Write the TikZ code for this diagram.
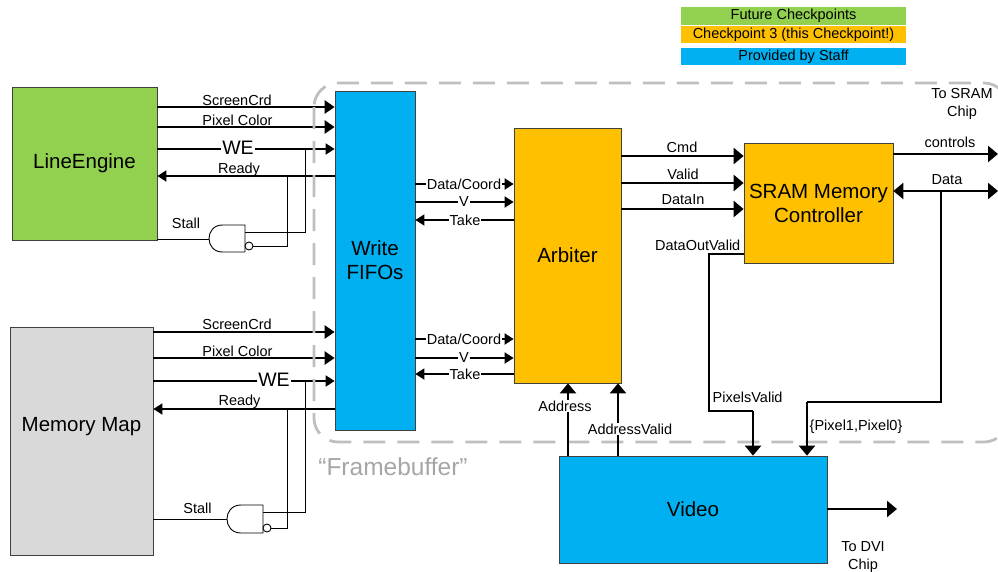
\documentclass[tikz,border=0pt]{standalone}
\usepackage{fontspec}
\setmainfont{Liberation Sans}
\usetikzlibrary{arrows.meta}
\definecolor{cgreen}{HTML}{92D050}
\definecolor{corange}{HTML}{FFC000}
\definecolor{cblue}{HTML}{00B0F0}
\definecolor{cgray}{HTML}{D9D9D9}
\definecolor{cdash}{HTML}{BFBFBF}
\definecolor{cframe}{HTML}{A6A6A6}
\begin{document}
\begin{tikzpicture}[x=1pt,y=-1pt,
  blk/.style={draw=black!75, line width=0.75pt, inner sep=0pt, align=center, font=\fontsize{20.5}{24}\selectfont},
  bigtxt/.style={inner sep=0pt, align=center, font=\fontsize{20.5}{24}\selectfont},
  legend/.style={inner sep=0pt, minimum width=225, minimum height=17.5, font=\fontsize{14.5}{16}\selectfont},
  lbl/.style={inner sep=0.5pt, font=\fontsize{14.5}{17}\selectfont},
  onl/.style={lbl, fill=white, inner sep=1pt},
  bus/.style={line width=2.6pt, -{Triangle[length=10pt,width=13pt]}},
  sig/.style={line width=1.8pt, -{Triangle[length=9pt,width=11pt]}},
  sigback/.style={line width=1.8pt, {Triangle[length=9pt,width=11pt]}-},
  fat/.style={line width=2.4pt, -{Triangle[length=10pt,width=16pt]}},
  fatboth/.style={line width=2.4pt, {Triangle[length=10pt,width=16pt]}-{Triangle[length=10pt,width=16pt]}},
  fatline/.style={line width=2.4pt},
  wire/.style={line width=0.9pt},
  gate/.style={draw=black, line width=0.9pt, fill=white},
]
\useasboundingbox (0,0) rectangle (998,571);

% legend
\node[legend, fill=cgreen] (lg1) at (793.5,16) {Future Checkpoints};
\node[legend, fill=corange] (lg2) at (793.5,34.5) {Checkpoint 3 (this Checkpoint!)};
\node[legend, fill=cblue] (lg3) at (793.5,56.5) {Provided by Staff};

% blocks
\node[blk, fill=cgreen, minimum width=145, minimum height=153] (le) at (84.5,163.5) {LineEngine};
\node[blk, fill=cgray, minimum width=143, minimum height=228] (mm) at (81.5,441) {};
\node[bigtxt] (mmtxt) at (81.5,427) {Memory Map};
\node[blk, fill=cblue, minimum width=80, minimum height=339] (fifo) at (375,260.5) {Write\\FIFOs};
\node[blk, fill=corange, minimum width=107, minimum height=255] (arb) at (567.5,255.5) {Arbiter};
\node[blk, fill=corange, minimum width=149, minimum height=120] (sram) at (818.5,203) {SRAM Memory\\Controller};
\node[blk, fill=cblue, minimum width=268, minimum height=107] (video) at (693,509.5) {Video};

% LineEngine signals
\draw[bus] (le.east |- 0,107) -- (fifo.west |- 0,107);
\draw[bus] (le.east |- 0,127) -- (fifo.west |- 0,127);
\draw[sig] (le.east |- 0,149) -- (fifo.west |- 0,149);
\draw[sigback] (le.east |- 0,176) -- (fifo.west |- 0,176);
\node[lbl, anchor=base] (l1) at (237,105.5) {ScreenCrd};
\node[lbl, anchor=base] (l2) at (237.5,125) {Pixel Color};
\node[onl, font=\fontsize{19.5}{22}\selectfont] (l3) at (238,148) {WE};
\node[lbl, anchor=base] (l4) at (239,173.3) {Ready};
\node[lbl, anchor=base] (l5) at (186,228) {Stall};
% gate 1
\coordinate (g1o) at (209,239);
\coordinate (g1a) at (245,232);
\coordinate (g1b) at (253,246);
\coordinate (j1a) at (305,149);
\coordinate (j1b) at (287,176);
\draw[wire] (le.east |- g1o) -- (g1o);
\draw[wire] (g1a) -| (j1a);
\draw[wire] (g1b) -| (j1b);
\draw[gate] (245,225) -- (222.5,225) .. controls (204.5,225) and (204.5,252) .. (222.5,252) -- (245,252) -- cycle;
\draw[gate] (249,246) circle[radius=4];

% Memory Map signals
\draw[bus] (mm.east |- 0,332) -- (fifo.west |- 0,332);
\draw[bus] (mm.east |- 0,358) -- (fifo.west |- 0,358);
\draw[sig] (mm.east |- 0,381) -- (fifo.west |- 0,381);
\draw[sigback] (mm.east |- 0,409) -- (fifo.west |- 0,409);
\node[lbl, anchor=base] (m1) at (237,329.5) {ScreenCrd};
\node[lbl, anchor=base] (m2) at (237.5,356.5) {Pixel Color};
\node[onl, font=\fontsize{19.5}{22}\selectfont] (m3) at (274,380) {WE};
\node[lbl, anchor=base] (m4) at (239.5,405.7) {Ready};
\node[lbl, anchor=base] (m5) at (197.5,513.3) {Stall};
% gate 2
\coordinate (g2o) at (227,519);
\coordinate (g2a) at (263,512);
\coordinate (g2b) at (271,528);
\coordinate (j2a) at (305,381);
\coordinate (j2b) at (287,409);
\draw[wire] (mm.east |- g2o) -- (g2o);
\draw[wire] (g2a) -| (j2a);
\draw[wire] (g2b) -| (j2b);
\draw[gate] (263,505) -- (241,505) .. controls (222.3,505) and (222.3,533) .. (241,533) -- (263,533) -- cycle;
\draw[gate] (267,528) circle[radius=4];

% dashed framebuffer outline
\begin{scope}
\clip (0,0) rectangle (998,571);
\draw[cdash, line width=2.8pt, dash pattern=on 22pt off 12pt, rounded corners=24pt] (314,83) rectangle (1008,442);
\end{scope}
\node[inner sep=0pt, text=cframe, font=\fontsize{24.5}{28}\selectfont] (fbtxt) at (393,467) {``Framebuffer''};

% FIFO <-> Arbiter
\draw[sig] (fifo.east |- 0,184) -- (arb.west |- 0,184);
\draw[sig] (fifo.east |- 0,202) -- (arb.west |- 0,202);
\draw[sigback] (fifo.east |- 0,220) -- (arb.west |- 0,220);
\node[onl] (f1) at (464,184) {Data/Coord};
\node[onl] (f2) at (464,202) {V};
\node[onl] (f3) at (465,220) {Take};
\draw[sig] (fifo.east |- 0,339) -- (arb.west |- 0,339);
\draw[sig] (fifo.east |- 0,358) -- (arb.west |- 0,358);
\draw[sigback] (fifo.east |- 0,374) -- (arb.west |- 0,374);
\node[onl] (f4) at (464,339) {Data/Coord};
\node[onl] (f5) at (464,358) {V};
\node[onl] (f6) at (465,374) {Take};

% Arbiter -> SRAM
\draw[fat] (arb.east |- 0,156) -- (sram.west |- 0,156);
\draw[fat] (arb.east |- 0,183) -- (sram.west |- 0,183);
\draw[fat] (arb.east |- 0,209) -- (sram.west |- 0,209);
\node[lbl] (a1) at (682,147) {Cmd};
\node[lbl] (a2) at (683,174) {Valid};
\node[lbl] (a3) at (683,200) {DataIn};

% SRAM to chip
\coordinate (chip1) at (998,154);
\coordinate (chip2) at (998,191);
\draw[fat] (sram.east |- chip1) -- (chip1);
\draw[fatboth] (sram.east |- chip2) -- (chip2);
\node[lbl] (s1) at (950,142) {controls};
\node[lbl] (s2) at (947,180) {Data};
\node[lbl, align=center, font=\fontsize{14.5}{18}\selectfont] (s3) at (962,104) {To SRAM\\Chip};

% DataOutValid -> PixelsValid
\coordinate (d1) at (709,254);
\coordinate (d2) at (709,411);
\coordinate (d3) at (753,411);
\draw[fatline] (sram.west |- d1) -- (d1) -- (d2) -- (d3);
\draw[fat] (d3) -- (video.north -| d3);
\node[lbl, anchor=east] (o1) at (741,245) {DataOutValid};
\node[lbl, anchor=west] (o2) at (712,397) {PixelsValid};

% Data -> {Pixel1,Pixel0}
\coordinate (p1) at (941,191);
\coordinate (p2) at (941,402);
\coordinate (p3) at (807,402);
\draw[fatline] (p1) -- (p2) -- (p3);
\draw[fat] (p3) -- (video.north -| p3);
\node[lbl, anchor=west] (o3) at (809,427) {\{Pixel1,Pixel0\}};

% Video -> Arbiter
\coordinate (v1) at (568,0);
\coordinate (v2) at (618,0);
\draw[fat] (video.north -| v1) -- (arb.south -| v1);
\draw[fat] (video.north -| v2) -- (arb.south -| v2);
\node[onl] (o4) at (565,406) {Address};
\node[onl] (o5) at (630,429) {AddressValid};

% Video -> DVI
\coordinate (dvi) at (897,509);
\draw[fat] (video.east |- dvi) -- (dvi);
\node[lbl, align=center, font=\fontsize{14.5}{18}\selectfont] (o6) at (863,557) {To DVI\\Chip};
\end{tikzpicture}
\end{document}
